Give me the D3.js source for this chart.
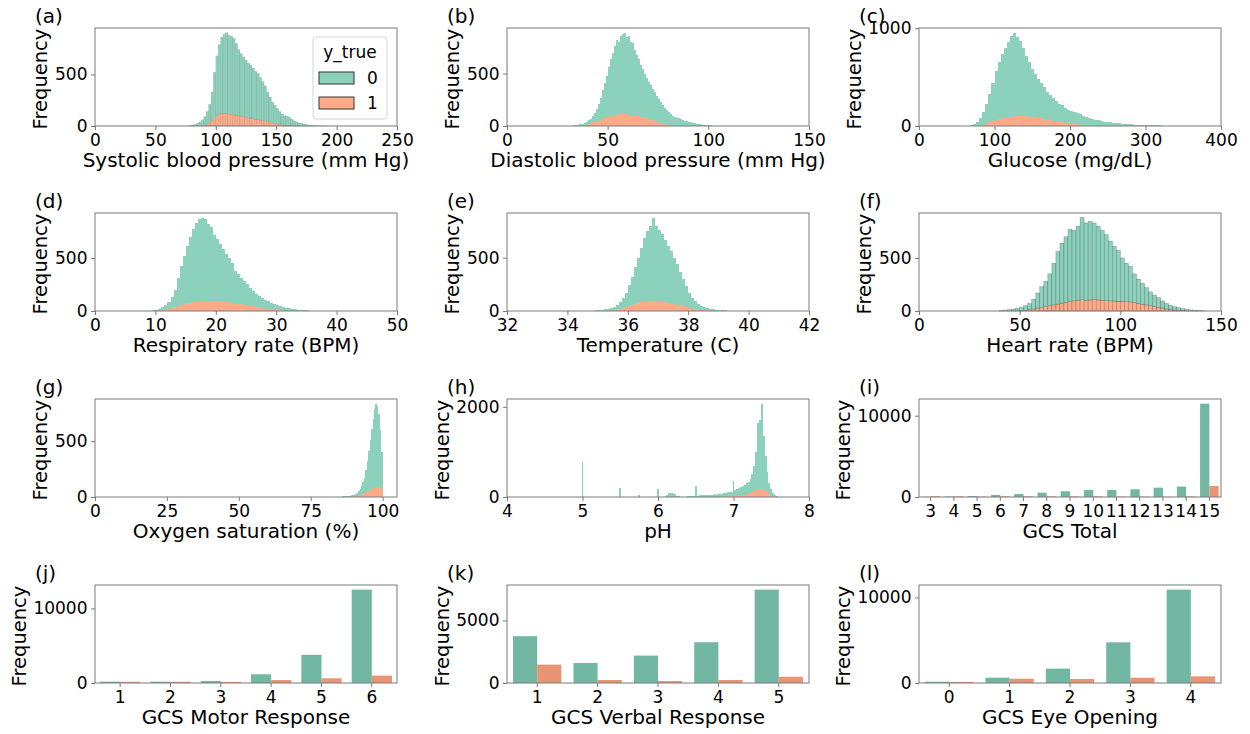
<!DOCTYPE html>
<html><head><meta charset="utf-8">
<script src="https://cdn.jsdelivr.net/npm/d3@7"></script>
<style>
body{margin:0;background:#fff;}
svg{display:block;font-family:"DejaVu Sans",sans-serif;}
</style></head><body>
<svg id="chart" width="1250" height="734"></svg>
<script>
// ---------------- DATA ----------------
const classLabels = ["0", "1"];

// (a) Systolic blood pressure, bins of width 2 starting at 76
const sbpBinStart = 76, sbpBinWidth = 2;
const sbpAll = [2,5,10,15,25,40,60,90,140,210,330,520,680,790,860,890,905,880,870,850,800,740,700,670,640,610,590,560,530,510,470,430,390,330,280,230,200,170,140,115,100,95,85,65,50,40,30,25,20,15,10,8,6,4,3,2,1,1];
const sbpPos = [0,0,0,0,0,2,5,10,20,35,55,80,105,118,122,124,120,118,112,108,105,100,95,90,85,80,76,70,65,60,58,56,52,45,38,32,26,22,17,13,10,8,6,4,3,2,1,0,0,0,0,0,0,0,0,0,0,0];
const sbpXTicks = [0,50,100,150,200,250];
const sbpYTicks = [0,500,1000];

// (b) Diastolic blood pressure, bins of width 1 starting at 30
const dbpBinStart = 30, dbpBinWidth = 1;
const dbpAll = [2,3,4,6,9,12,16,22,30,42, 55,70,95,125,165,210,270,340,410,480, 560,640,700,760,820,800,860,880,890,850, 860,800,790,720,680,640,580,540,500,460, 420,390,350,320,290,260,230,200,175,150, 130,115,100,90,80,72,64,56,50,45, 40,35,30,26,22,18,15,12,10,8, 6,5,4,3,2];
const dbpPos = [0,0,0,0,0,2,4,6,10,14, 20,28,35,40,45,52,60,68,75,82, 88,92,96,100,105,110,112,115,114,110, 108,104,100,98,95,92,90,88,84,78, 70,62,54,46,38,32,26,20,15,11, 8,6,4,3,2,1,0,0,0,0, 0,0,0,0,0,0,0,0,0,0, 0,0,0,0,0];
const dbpXTicks = [0,50,100,150];
const dbpYTicks = [0,500,1000];

// (c) Glucose, bins of width 4 starting at 64
const gluBinStart = 64, gluBinWidth = 4;
const gluAll = [3,8,20,45,80,140,220,330,440,560, 650,740,800,860,920,955,910,870,800,720, 650,580,530,480,440,400,350,320,290,255, 230,210,185,165,150,140,128,118,105,95, 85,75,66,60,52,45,40,36,32,29, 26,23,20,18,17,15,13,12,10,9, 8,7,6,6,5,5,4,4,4,3, 3,3,2,2,2,2,1,1,1];
const gluPos = [0,0,0,3,6,12,22,38,50,62, 72,78,84,90,96,102,106,104,100,98, 95,92,88,85,80,74,68,62,56,50, 45,40,35,30,26,22,18,15,12,10, 8,6,5,4,3,2,2,1,1,0, 0,0,0,0,0,0,0,0,0,0, 0,0,0,0,0,0,0,0,0,0, 0,0,0,0,0,0,0,0,0];
const gluXTicks = [0,100,200,300,400];
const gluYTicks = [0,1000];

// (d) Respiratory rate, bins of width 0.5 starting at 9.5
const respBinStart = 9.5, respBinWidth = 0.5;
const respAll = [5,12,20,35,55,85,130,200,310,420, 520,610,700,770,830,865,880,870,820,790, 720,680,630,580,540,500,450,380,345,315, 285,250,220,190,165,140,120,105,90,75, 65,55,45,38,32,26,20,15,12,9, 7,5,3,2,1];
const respPos = [0,0,0,5,10,18,28,38,50,60, 68,75,80,85,88,92,95,97,96,95, 94,92,90,88,85,82,78,74,70,65, 60,55,50,44,38,32,27,22,18,14, 10,7,5,3,2,0,0,0,0,0, 0,0,0,0,0];
const respXTicks = [0,10,20,30,40,50];
const respYTicks = [0,500,1000];

// (e) Temperature, bins of width 0.1 starting at 34.8
const tempBinStart = 34.8, tempBinWidth = 0.1;
const tempAll = [3,5,8,12,16,20,25,35,55,85, 120,170,240,320,410,500,590,680,750,800, 875,800,760,720,670,610,560,500,440,370, 300,230,170,125,90,65,45,35,28,22, 18,14,10,7,5,3,2,1];
const tempPos = [0,0,0,0,0,0,0,5,12,20, 30,40,50,60,68,75,82,88,93,96, 95,88,85,84,82,78,74,68,60,52, 44,36,28,22,18,14,10,7,5,3, 2,0,0,0,0,0,0,0];
const tempXTicks = [32,34,36,38,40,42];
const tempYTicks = [0,500,1000];

// (f) Heart rate, bins of width 2 starting at 40
const hrBinStart = 40, hrBinWidth = 2;
const hrAll = [3,6,12,18,25,35,50,70,110,170, 230,280,350,450,560,640,700,770,760,800, 880,830,845,830,800,760,720,660,610,570, 500,450,420,350,300,260,220,180,150,125, 95,70,52,40,32,22,15,10,6,3, 2];
const hrPos = [0,0,0,0,0,3,6,12,20,28, 32,40,50,58,66,75,82,90,96,100, 106,100,104,106,104,100,98,96,94,92, 90,88,86,80,72,64,58,52,42,35, 28,20,14,10,6,4,2,0,0,0, 0];
const hrXTicks = [0,50,100,150];
const hrYTicks = [0,500,1000];

// (g) Oxygen saturation, bins of width 0.5 starting at 85
const spoBinStart = 85, spoBinWidth = 0.5;
const spoAll = [3,4,5,6,8,9,10,12,14,16, 18,25,35,50,70,95,130,170,240,320, 410,510,610,700,790,835,810,740,600,400];
const spoPos = [0,0,0,0,0,0,0,0,0,0, 3,5,8,12,16,22,28,35,42,50, 58,65,72,78,84,88,91,90,85,70];
const spoXTicks = [0,25,50,75,100];
const spoYTicks = [0,500,1000];

// (h) pH, bin centres (width 0.025)
const phBinWidth = 0.025;
const phCentres = [5.0,5.5,5.75,6.0, 6.1,6.125,6.15,6.175,6.2,6.225,6.25,6.275,6.3, 6.35,6.4,
  6.425,6.45,6.475,6.5,6.525,6.55,6.575,6.6,6.625,6.65, 6.675,6.7,6.725,6.75,6.775,6.8,6.825,6.85,6.875,6.9,
  6.925,6.95,6.975,7.0,7.025,7.05,7.075,7.1,7.125,7.15, 7.175,7.2,7.225,7.25,7.275,7.3,7.325,7.35,7.375,7.4,
  7.425,7.45,7.475,7.5,7.525,7.55,7.575,7.6];
const phAll = [780,200,35,175, 20,45,80,95,85,60,30,15,8, 10,12,
  15,18,22,245,28,38,45,50,48,45, 42,48,52,58,55,60,65,70,78,85,
  100,110,120,350,160,185,200,220,245,270, 300,340,410,500,680,1000,1650,1700,2070,1350,
  900,560,320,180,80,35,12,5];
const phPos = [18,5,1,5, 0,1,2,3,3,2,1,0,0, 0,0,
  0,0,1,6,1,1,2,2,2,3, 3,4,4,5,5,6,7,8,9,10,
  12,14,16,30,26,30,35,40,47,55, 64,75,90,110,130,150,165,175,180,165,
  135,100,65,35,15,5,2,0];
const phXTicks = [4,5,6,7,8];
const phYTicks = [0,2000];

// (i) GCS Total
const gcsTotalCats = ["3","4","5","6","7","8","9","10","11","12","13","14","15"];
const gcsTotal0 = [30,60,120,250,370,530,700,860,860,950,1150,1280,11480];
const gcsTotal1 = [100,90,60,90,90,80,80,90,50,50,40,80,1350];
const gcsTotalYTicks = [0,10000];

// (j) GCS Motor Response
const gcsMotorCats = ["1","2","3","4","5","6"];
const gcsMotor0 = [180,180,270,1170,3780,12520];
const gcsMotor1 = [170,170,150,400,630,990];
const gcsMotorYTicks = [0,10000];

// (k) GCS Verbal Response
const gcsVerbalCats = ["1","2","3","4","5"];
const gcsVerbal0 = [3740,1600,2190,3260,7460];
const gcsVerbal1 = [1470,240,160,240,500];
const gcsVerbalYTicks = [0,5000];

// (l) GCS Eye Opening
const gcsEyeCats = ["0","1","2","3","4"];
const gcsEye0 = [150,620,1680,4750,10900];
const gcsEye1 = [130,500,470,620,780];
const gcsEyeYTicks = [0,10000];

// ---------------- LAYOUT / STYLE ----------------
const colX = [95, 507, 919], rowY = [28, 213, 399, 585];
const AW = 302, AH = 98;
const histGreen = "#8cd1bc", histOrange = "#fdaa89";
const barGreen = "#71b7a1", barOrange = "#e99575";
const frameColor = "#7a7a7a";
const FONT = '"DejaVu Sans", sans-serif';

function binsFrom(start, width, n) { return d3.range(n).map(i => +(start + i * width).toFixed(4)); }

const panels = [
  {id:"a", col:0,row:0, kind:"hist", xDomain:[0,250], xTicks:sbpXTicks, yTicks:sbpYTicks, xlabel:"Systolic blood pressure (mm Hg)",
    lo: binsFrom(sbpBinStart, sbpBinWidth, sbpAll.length), w: sbpBinWidth, all: sbpAll, pos: sbpPos, edge:0.15, legend:true},
  {id:"b", col:1,row:0, kind:"hist", xDomain:[0,150], xTicks:dbpXTicks, yTicks:dbpYTicks, xlabel:"Diastolic blood pressure (mm Hg)",
    lo: binsFrom(dbpBinStart, dbpBinWidth, dbpAll.length), w: dbpBinWidth, all: dbpAll, pos: dbpPos},
  {id:"c", col:2,row:0, kind:"hist", xDomain:[0,400], xTicks:gluXTicks, yTicks:gluYTicks, xlabel:"Glucose (mg/dL)",
    lo: binsFrom(gluBinStart, gluBinWidth, gluAll.length), w: gluBinWidth, all: gluAll, pos: gluPos},
  {id:"d", col:0,row:1, kind:"hist", xDomain:[0,50], xTicks:respXTicks, yTicks:respYTicks, xlabel:"Respiratory rate (BPM)",
    lo: binsFrom(respBinStart, respBinWidth, respAll.length), w: respBinWidth, all: respAll, pos: respPos},
  {id:"e", col:1,row:1, kind:"hist", xDomain:[32,42], xTicks:tempXTicks, yTicks:tempYTicks, xlabel:"Temperature (C)",
    lo: binsFrom(tempBinStart, tempBinWidth, tempAll.length), w: tempBinWidth, all: tempAll, pos: tempPos},
  {id:"f", col:2,row:1, kind:"hist", xDomain:[0,150], xTicks:hrXTicks, yTicks:hrYTicks, xlabel:"Heart rate (BPM)",
    lo: binsFrom(hrBinStart, hrBinWidth, hrAll.length), w: hrBinWidth, all: hrAll, pos: hrPos, edge:0.35},
  {id:"g", col:0,row:2, kind:"hist", xDomain:[0,105], xTicks:spoXTicks, yTicks:spoYTicks, xlabel:"Oxygen saturation (%)",
    lo: binsFrom(spoBinStart, spoBinWidth, spoAll.length), w: spoBinWidth, all: spoAll, pos: spoPos},
  {id:"h", col:1,row:2, kind:"hist", xDomain:[4,8], xTicks:phXTicks, yTicks:phYTicks, xlabel:"pH",
    lo: phCentres.map(c => c - phBinWidth/2), w: phBinWidth, all: phAll, pos: phPos},
  {id:"i", col:2,row:2, kind:"bar", cats:gcsTotalCats, v0:gcsTotal0, v1:gcsTotal1, yTicks:gcsTotalYTicks, xlabel:"GCS Total"},
  {id:"j", col:0,row:3, kind:"bar", cats:gcsMotorCats, v0:gcsMotor0, v1:gcsMotor1, yTicks:gcsMotorYTicks, xlabel:"GCS Motor Response"},
  {id:"k", col:1,row:3, kind:"bar", cats:gcsVerbalCats, v0:gcsVerbal0, v1:gcsVerbal1, yTicks:gcsVerbalYTicks, xlabel:"GCS Verbal Response"},
  {id:"l", col:2,row:3, kind:"bar", cats:gcsEyeCats, v0:gcsEye0, v1:gcsEye1, yTicks:gcsEyeYTicks, xlabel:"GCS Eye Opening"}
];

const svg = d3.select("#chart");
svg.append("rect").attr("width",1250).attr("height",734).attr("fill","#fff");

function styleAxis(sel) {
  sel.attr("font-family", FONT).attr("font-size", 17);
  sel.select(".domain").remove();
  sel.selectAll(".tick line").attr("stroke", frameColor).attr("stroke-width", 1);
  sel.selectAll(".tick text").attr("fill", "#000");
}

panels.forEach(p => {
  const L = colX[p.col], T = rowY[p.row], B = T + AH;
  const g = svg.append("g").attr("class", "panel-" + p.id);
  let maxV, x;
  if (p.kind === "hist") {
    maxV = d3.max(p.all);
    x = d3.scaleLinear().domain(p.xDomain).range([L, L + AW]);
  } else {
    maxV = d3.max(p.v0.concat(p.v1));
    x = d3.scaleBand().domain(p.cats).range([L, L + AW]).paddingInner(0).paddingOuter(0);
  }
  const y = d3.scaleLinear().domain([0, maxV * 1.05]).range([B, T]);

  if (p.kind === "hist") {
    const rows = p.lo.map((lo, i) => ({lo, hi: lo + p.w, all: p.all[i], pos: p.pos[i]}));
    const bars = g.append("g");
    const crisp = p.edge ? null : "crispEdges";
    bars.selectAll("rect.pos").data(rows.filter(r => r.pos > 0)).join("rect")
      .attr("x", r => x(r.lo)).attr("width", r => x(r.hi) - x(r.lo))
      .attr("y", r => y(r.pos)).attr("height", r => y(0) - y(r.pos))
      .attr("fill", histOrange).attr("shape-rendering", crisp)
      .attr("stroke", p.edge ? "#000" : "none").attr("stroke-opacity", p.edge || 0).attr("stroke-width", 0.5);
    bars.selectAll("rect.neg").data(rows.filter(r => r.all > r.pos)).join("rect")
      .attr("x", r => x(r.lo)).attr("width", r => x(r.hi) - x(r.lo))
      .attr("y", r => y(r.all)).attr("height", r => y(r.pos) - y(r.all))
      .attr("fill", histGreen).attr("shape-rendering", crisp)
      .attr("stroke", p.edge ? "#000" : "none").attr("stroke-opacity", p.edge || 0).attr("stroke-width", 0.5);
  } else {
    const bw = x.bandwidth();
    const rows = p.cats.map((c, i) => ({c, v0: p.v0[i], v1: p.v1[i]}));
    g.selectAll("rect.c0").data(rows).join("rect")
      .attr("x", r => x(r.c) + bw * 0.1).attr("width", bw * 0.4)
      .attr("y", r => y(r.v0)).attr("height", r => y(0) - y(r.v0))
      .attr("fill", barGreen);
    g.selectAll("rect.c1").data(rows).join("rect")
      .attr("x", r => x(r.c) + bw * 0.5).attr("width", bw * 0.4)
      .attr("y", r => y(r.v1)).attr("height", r => y(0) - y(r.v1))
      .attr("fill", barOrange);
  }

  // axes
  const xAxis = (p.kind === "hist")
    ? d3.axisBottom(x).tickValues(p.xTicks).tickFormat(d3.format("d"))
    : d3.axisBottom(x);
  xAxis.tickSize(4).tickPadding(3.5);
  const gx = g.append("g").attr("transform", `translate(0,${B})`).call(xAxis);
  styleAxis(gx);

  const yt = p.yTicks.filter(v => v <= y.domain()[1] + 1e-9);
  const gy = g.append("g").attr("transform", `translate(${L},0)`)
    .call(d3.axisLeft(y).tickValues(yt).tickFormat(d3.format("d")).tickSize(4).tickPadding(3.5));
  styleAxis(gy);

  // frame
  g.append("rect").attr("x", L).attr("y", T).attr("width", AW).attr("height", AH)
    .attr("fill", "none").attr("stroke", frameColor).attr("stroke-width", 1);

  // labels
  g.append("text").attr("x", L + AW / 2).attr("y", B + 41).attr("text-anchor", "middle")
    .attr("font-family", FONT).attr("font-size", 20).attr("fill", "#000").text(p.xlabel);

  let tickW = 0;
  gy.selectAll(".tick text").each(function() { tickW = Math.max(tickW, this.getComputedTextLength()); });
  const yfs = 19.5;
  const bx = L - 7.5 - tickW - 3 - 0.236 * yfs;
  g.append("text").attr("transform", `translate(${bx},${T + AH / 2 + 2}) rotate(-90)`).attr("text-anchor", "middle")
    .attr("font-family", FONT).attr("font-size", yfs).attr("fill", "#000").text("Frequency");

  g.append("text").attr("x", L - 60).attr("y", T - 5).attr("font-family", FONT).attr("font-size", 20)
    .attr("fill", "#000").text("(" + p.id + ")");

  if (p.legend) {
    const lg = g.append("g").attr("font-family", FONT).attr("font-size", 17);
    lg.append("rect").attr("x", L + 218).attr("y", T + 9).attr("width", 74).attr("height", 82)
      .attr("rx", 3).attr("fill", "#fff").attr("fill-opacity", 0.8).attr("stroke", "#d6d6d6").attr("stroke-width", 1);
    lg.append("text").attr("x", L + 255).attr("y", T + 30).attr("text-anchor", "middle").attr("fill", "#000").text("y_true");
    const fills = [histGreen, histOrange];
    classLabels.forEach((lab, i) => {
      lg.append("rect").attr("x", L + 224).attr("y", T + 44 + i * 25).attr("width", 35).attr("height", 12)
        .attr("fill", fills[i]).attr("stroke", "#333").attr("stroke-width", 1);
      lg.append("text").attr("x", L + 272).attr("y", T + 56 + i * 25).attr("fill", "#000").text(lab);
    });
  }
});
</script>
</body></html>
